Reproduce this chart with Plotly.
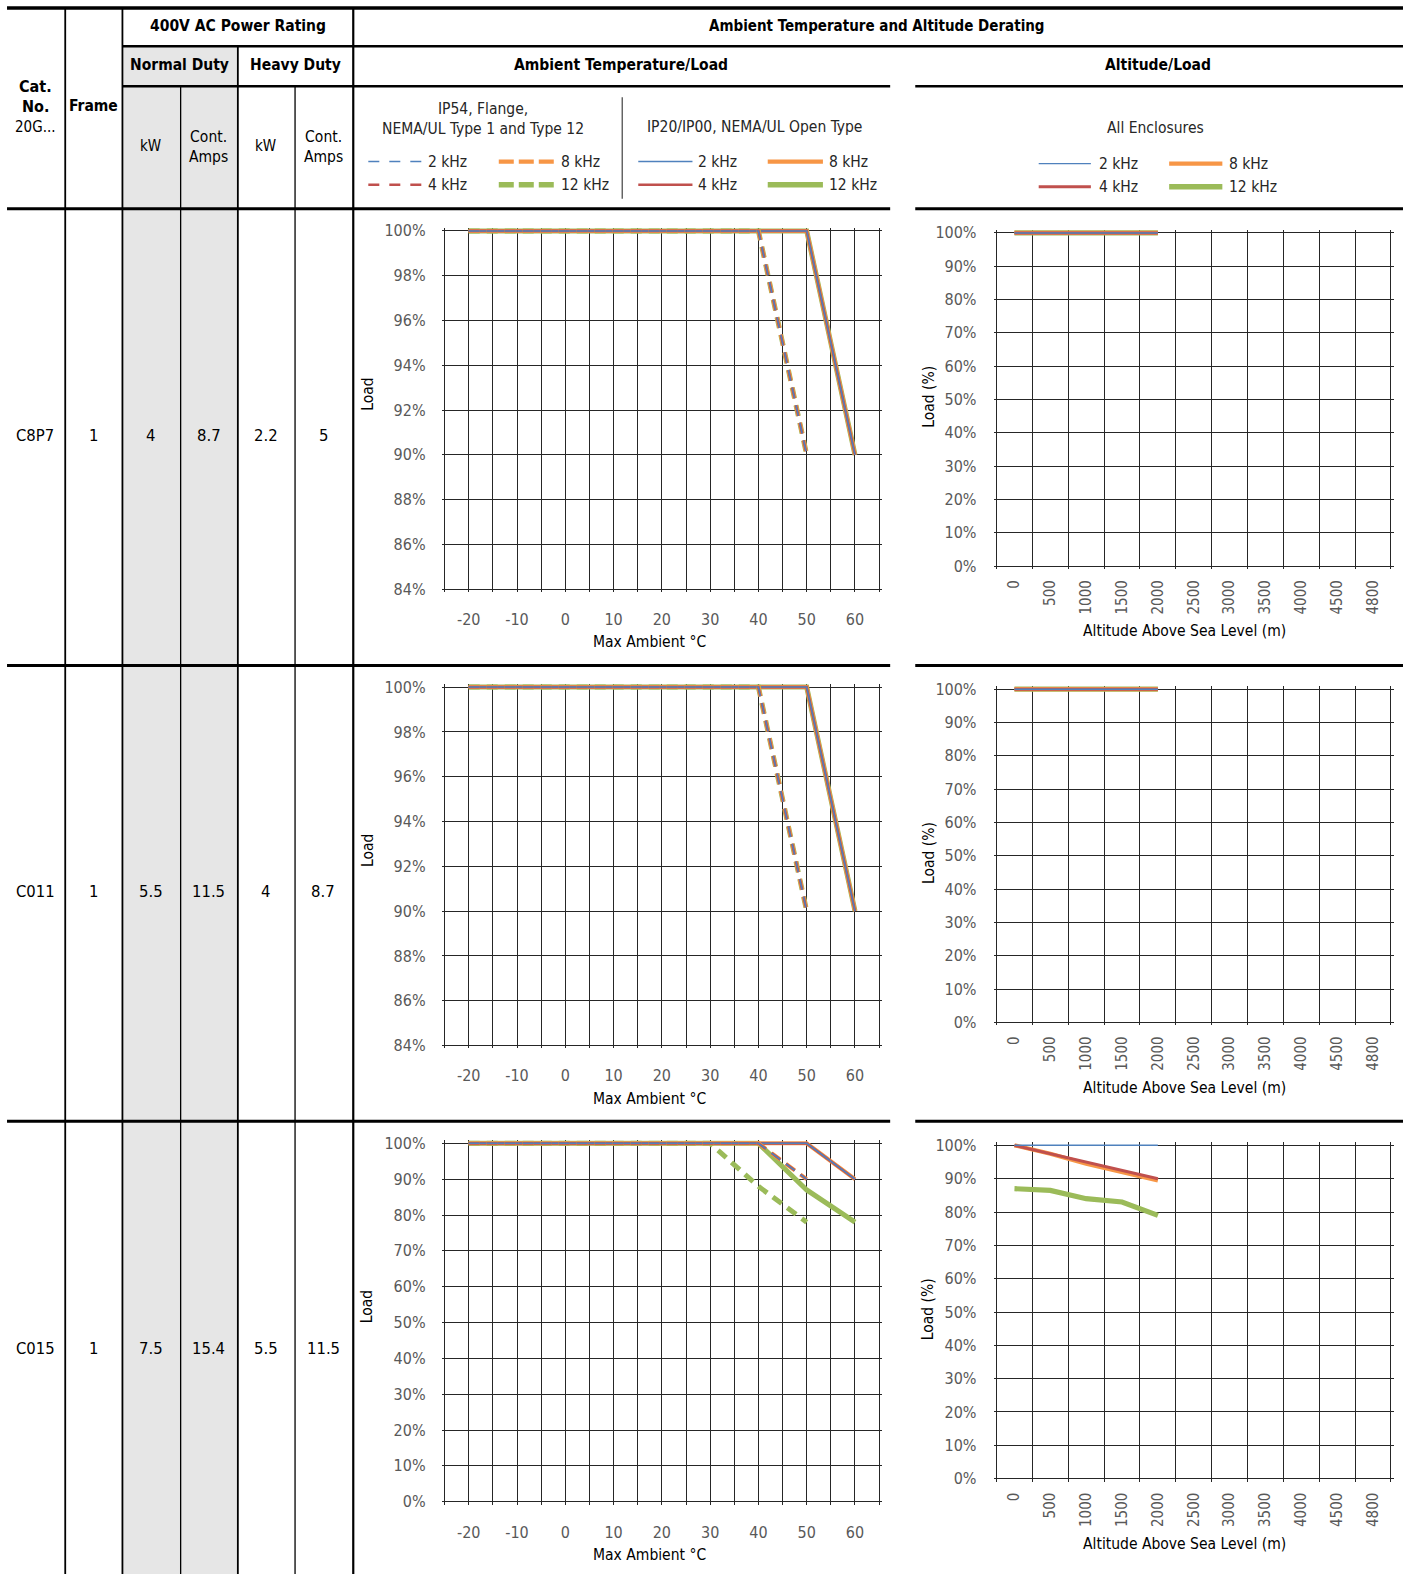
import plotly.graph_objects as go

# ---------------- DATA ----------------
CAT_NOS = ["C8P7", "C011", "C015"]
FRAMES = ["1", "1", "1"]
ND_KW = ["4", "5.5", "7.5"]
ND_AMPS = ["8.7", "11.5", "15.4"]
HD_KW = ["2.2", "4", "5.5"]
HD_AMPS = ["5", "8.7", "11.5"]

FREQS = ["2 kHz", "4 kHz", "8 kHz", "12 kHz"]

TEMP_GRID = [-25, -20, -15, -10, -5, 0, 5, 10, 15, 20, 25, 30, 35, 40, 45, 50, 55, 60, 65]
TEMP_X_LABELS = [-20, -10, 0, 10, 20, 30, 40, 50, 60]
TEMP_Y_FINE = [84, 86, 88, 90, 92, 94, 96, 98, 100]
TEMP_Y_COARSE = [0, 10, 20, 30, 40, 50, 60, 70, 80, 90, 100]
ALT_CATS = ["0", "500", "1000", "1500", "2000", "2500", "3000", "3500", "4000", "4500", "4800"]
ALT_Y_TICKS = [0, 10, 20, 30, 40, 50, 60, 70, 80, 90, 100]

# ambient temperature derating (x = deg C, y = % load)
IP54_X = [-20, 40, 50]
IP54_Y = [100, 100, 90]
OPEN_X = [-20, 50, 60]
OPEN_Y = [100, 100, 90]
C015_IP54_12K_X = [-20, 30, 40, 50]
C015_IP54_12K_Y = [100, 100, 88, 78]
C015_OPEN_12K_X = [-20, 40, 50, 60]
C015_OPEN_12K_Y = [100, 100, 87, 78]

# altitude derating
ALT_X = ["0", "500", "1000", "1500", "2000"]
ALT_FLAT = [100, 100, 100, 100, 100]
C015_ALT_4K = [100, 97.5, 95, 92.5, 90]
C015_ALT_8K = [100, 97.5, 94.5, 92, 89.5]
C015_ALT_12K = [87, 86.5, 84, 83, 79]

TEMP_DATA = [
    {f: (IP54_X, IP54_Y, OPEN_X, OPEN_Y) for f in FREQS},
    {f: (IP54_X, IP54_Y, OPEN_X, OPEN_Y) for f in FREQS},
    {"2 kHz": (IP54_X, IP54_Y, OPEN_X, OPEN_Y),
     "4 kHz": (IP54_X, IP54_Y, OPEN_X, OPEN_Y),
     "8 kHz": (IP54_X, IP54_Y, OPEN_X, OPEN_Y),
     "12 kHz": (C015_IP54_12K_X, C015_IP54_12K_Y, C015_OPEN_12K_X, C015_OPEN_12K_Y)},
]
ALT_DATA = [
    {f: ALT_FLAT for f in FREQS},
    {f: ALT_FLAT for f in FREQS},
    {"2 kHz": ALT_FLAT, "4 kHz": C015_ALT_4K, "8 kHz": C015_ALT_8K, "12 kHz": C015_ALT_12K},
]

# ---------------- STYLE ----------------
W, H = 1405, 1574
RW, RH = 1400.0, 1568.0
FONT = "DejaVu Sans Condensed, Liberation Sans Narrow, Arial Narrow, sans-serif"
GRID = "#262626"
TICK_C = "#595959"
COLORS = {"2 kHz": "#4f81bd", "4 kHz": "#c0504d", "8 kHz": "#f79646", "12 kHz": "#9bbb59"}
TW = {"2 kHz": 1.5, "4 kHz": 2.6, "8 kHz": 4.0, "12 kHz": 5.0}
AW = {"2 kHz": 1.5, "4 kHz": 3.0, "8 kHz": 4.2, "12 kHz": 5.2}
CHART_DASH = "11px,7px"
LEG_DASH = {"2 kHz": "11px,10px", "4 kHz": "11px,10px", "8 kHz": "15px,5px", "12 kHz": "15px,5px"}
ORDER = ["12 kHz", "8 kHz", "4 kHz", "2 kHz"]
ROW_DY = 454.5
HEAD = 15.5
TICK_S = 16
TITLE_S = 15.5
LEG_S = 15.5


def fx(x):
    return x / RW


def fy(y):
    return 1 - y / RH


fig = go.Figure()
layout_axes = {}
PAD = 3.0


def add_axes(box, xr, yr):
    x0, y0, x1, y1 = box
    xs = (xr[1] - xr[0]) / (x1 - x0)
    ys = (yr[1] - yr[0]) / (y1 - y0)
    xd = [fx(x0 - PAD), fx(x1 + PAD)]
    yd = [fy(y1 + PAD), fy(y0 - PAD)]
    xrange = [xr[0] - PAD * xs, xr[1] + PAD * xs]
    yrange = [yr[0] - PAD * ys, yr[1] + PAD * ys]
    return xd, yd, xrange, yrange


def axname(kind, n):
    return kind + "axis" + ("" if n == 1 else str(n))


def ref(kind, n):
    return kind + ("" if n == 1 else str(n))


common = dict(showgrid=True, gridcolor=GRID, gridwidth=1.3, zeroline=False,
              showline=False, ticks="", fixedrange=True, automargin=False,
              tickfont=dict(family=FONT, size=TICK_S, color=TICK_C))

for r in range(3):
    off = r * ROW_DY
    # ---- temperature chart
    n = 2 * r + 1
    yt = TEMP_Y_COARSE if r == 2 else TEMP_Y_FINE
    box = (443, 230 + off, 876, 587 + off)
    xd, yd, xrg, yrg = add_axes(box, (-25, 65), (yt[0], yt[-1]))
    layout_axes[axname("x", n)] = dict(
        common, domain=xd, range=xrg, anchor=ref("y", n), tickmode="array",
        tickvals=TEMP_GRID,
        ticktext=[str(v) if v in TEMP_X_LABELS else "" for v in TEMP_GRID],
        ticklabelstandoff=16)
    layout_axes[axname("y", n)] = dict(
        common, domain=yd, range=yrg, anchor=ref("x", n), tickmode="array",
        tickvals=yt, ticktext=[f"{v}%" for v in yt], ticklabelstandoff=15)
    for f in ORDER:
        ix, iy, ox, oy = TEMP_DATA[r][f]
        fig.add_trace(go.Scatter(x=ox, y=oy, mode="lines", xaxis=ref("x", n), yaxis=ref("y", n),
                                 line=dict(color=COLORS[f], width=TW[f]),
                                 showlegend=False, hoverinfo="skip"))
    for f in ORDER:
        ix, iy, ox, oy = TEMP_DATA[r][f]
        fig.add_trace(go.Scatter(x=ix, y=iy, mode="lines", xaxis=ref("x", n), yaxis=ref("y", n),
                                 line=dict(color=COLORS[f], width=TW[f], dash=CHART_DASH),
                                 showlegend=False, hoverinfo="skip"))
    # ---- altitude chart
    n = 2 * r + 2
    box = (993, 232 + off, 1386, 564 + off)
    xd, yd, xrg, yrg = add_axes(box, (-0.5, 10.5), (0, 100))
    layout_axes[axname("x", n)] = dict(
        common, domain=xd, range=xrg, anchor=ref("y", n), type="category",
        categoryorder="array", categoryarray=ALT_CATS, tickson="boundaries",
        tickangle=-90, ticklabelstandoff=7,
        tickfont=dict(family=FONT, size=15, color=TICK_C))
    layout_axes[axname("y", n)] = dict(
        common, domain=yd, range=yrg, anchor=ref("x", n), tickmode="array",
        tickvals=ALT_Y_TICKS, ticktext=[f"{v}%" for v in ALT_Y_TICKS], ticklabelstandoff=16)
    for f in ORDER:
        fig.add_trace(go.Scatter(x=ALT_X, y=ALT_DATA[r][f], mode="lines",
                                 xaxis=ref("x", n), yaxis=ref("y", n),
                                 line=dict(color=COLORS[f], width=AW[f]),
                                 showlegend=False, hoverinfo="skip"))

# ---------------- TABLE SHAPES ----------------
shapes = []


def hline(y, x0, x1, w=2.0, color="black"):
    shapes.append(dict(type="line", xref="paper", yref="paper", x0=fx(x0), x1=fx(x1),
                       y0=fy(y), y1=fy(y), line=dict(color=color, width=w)))


def vline(x, y0, y1, w=2.0, color="black"):
    shapes.append(dict(type="line", xref="paper", yref="paper", x0=fx(x), x1=fx(x),
                       y0=fy(y0), y1=fy(y1), line=dict(color=color, width=w)))


shapes.append(dict(type="rect", xref="paper", yref="paper", x0=fx(122), x1=fx(237),
                   y0=fy(1568), y1=fy(46), fillcolor="#e6e6e6", line=dict(width=0), layer="below"))

hline(8, 7, 1398, 3.5)
hline(46, 122, 1398, 2.5)
hline(86, 122, 887, 2.5)
hline(86, 912, 1398, 2.5)
for yy in [208, 663, 1117]:
    hline(yy, 7, 887, 3)
    hline(yy, 912, 1398, 3)
vline(65, 8, 1568, 1.8)
vline(122, 8, 1568, 1.8)
vline(180, 86, 1568, 1.3)
vline(237, 46, 1568, 1.8)
vline(294, 86, 1568, 1.3)
vline(352, 8, 1568, 2.2)
vline(620, 97, 198, 1.2, "#404040")

annotations = []


def text(x, y, s, size=19, bold=False, color="black", xanchor="center", angle=0):
    if bold:
        s = "<b>" + s + "</b>"
    annotations.append(dict(x=fx(x), y=fy(y), xref="paper", yref="paper", text=s,
                            showarrow=False, xanchor=xanchor, yanchor="middle",
                            textangle=angle, font=dict(family=FONT, size=size, color=color)))


# headers
text(237, 26, "400V AC Power Rating", HEAD, True)
text(874, 26, "Ambient Temperature and Altitude Derating", 15, True)
text(179, 65, "Normal Duty", HEAD, True)
text(294, 65, "Heavy Duty", HEAD, True)
text(619, 65, "Ambient Temperature/Load", HEAD, True)
text(1154, 65, "Altitude/Load", HEAD, True)
text(35, 86, "Cat.", 16, True)
text(35, 106, "No.", 16, True)
text(35, 127, "20G...", 15)
text(93, 106, "Frame", 15.5, True)
text(150, 145, "kW", 15)
text(208, 146, "Cont.<br>Amps", 15.5)
text(265, 145, "kW", 15)
text(322, 146, "Cont.<br>Amps", 15.5)

# legend blocks
LEG_TXT = "#262626"
text(481, 119, "IP54, Flange,<br>NEMA/UL Type 1 and Type 12", LEG_S, color=LEG_TXT)
text(752, 127, "IP20/IP00, NEMA/UL Open Type", LEG_S, color=LEG_TXT)
text(1151, 128, "All Enclosures", LEG_S, color=LEG_TXT)


def legend_block(xa, xb, ya, yb, widths, dash):
    spots = {"2 kHz": (xa, ya), "4 kHz": (xa, yb), "8 kHz": (xb, ya), "12 kHz": (xb, yb)}
    for f in FREQS:
        (lx0, lx1, tx), yy = spots[f]
        ln = dict(color=COLORS[f], width=widths[f])
        if dash:
            ln["dash"] = LEG_DASH[f]
        shapes.append(dict(type="line", xref="paper", yref="paper", x0=fx(lx0), x1=fx(lx1),
                           y0=fy(yy), y1=fy(yy), line=ln))
        text(tx, yy, f, LEG_S, color=LEG_TXT, xanchor="left")


legend_block((367, 420, 424), (497, 552, 557), 161, 184,
             {"2 kHz": 1.5, "4 kHz": 2.6, "8 kHz": 4.2, "12 kHz": 5.5}, True)
legend_block((636, 690, 694), (765, 820, 824), 161, 184,
             {"2 kHz": 1.5, "4 kHz": 2.6, "8 kHz": 4.2, "12 kHz": 5.5}, False)
legend_block((1035, 1087, 1093), (1165, 1218, 1223), 163, 186,
             {"2 kHz": 1.3, "4 kHz": 3.0, "8 kHz": 4.2, "12 kHz": 5.5}, False)

# row values and axis titles
COL_X = [35, 93, 150, 208, 265, 322]
for r in range(3):
    off = r * ROW_DY
    vals = [CAT_NOS[r], FRAMES[r], ND_KW[r], ND_AMPS[r], HD_KW[r], HD_AMPS[r]]
    for cx, v in zip(COL_X, vals):
        text(cx, 434 + off, v, 16.5)
    text(366, 393 + off, "Load", TITLE_S, angle=-90)
    text(647, 640 + off, "Max Ambient °C", TITLE_S)
    text(925, 395 + off, "Load (%)", TITLE_S, angle=-90)
    text(1180, 629 + off, "Altitude Above Sea Level (m)", TITLE_S)

fig.update_layout(
    width=W, height=H, margin=dict(l=0, r=0, t=0, b=0, pad=0, autoexpand=False),
    paper_bgcolor="white", plot_bgcolor="white",
    shapes=shapes, annotations=annotations, showlegend=False,
    font=dict(family=FONT), **layout_axes)

POST = ("var gd=document.getElementById('{plot_id}');"
        "gd.style.position='absolute';gd.style.top='0px';gd.style.left='0px';"
        "document.body.style.margin='0px';document.body.style.padding='0px';"
        "document.body.style.overflow='hidden';"
        "document.documentElement.style.overflow='hidden';")

fig.write_html("out.html", config={"displayModeBar": False}, post_script=POST)
